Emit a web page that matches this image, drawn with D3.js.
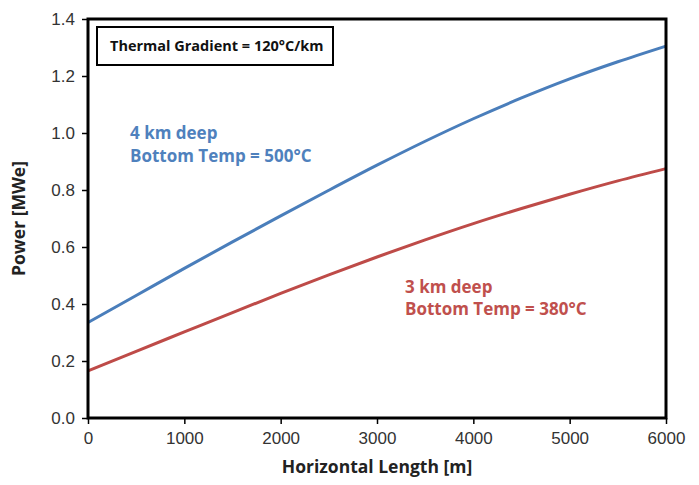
<!DOCTYPE html>
<meta charset="utf-8">
<style>
body { margin: 0; background: #fff; }
svg { font-family: "Open Sans", Lato, sans-serif; }
.axis text { font-size: 17px; fill: #333; }
.axis path { display: none; }
.axis line { stroke: #000; stroke-width: 1.5; }
.title { font-size: 17.5px; font-weight: bold; fill: #222; }
.note { font-size: 17px; font-weight: bold; }
</style>
<svg width="699" height="485"></svg>
<script src="https://d3js.org/d3.v7.min.js"></script>
<script>

// horizontal length [m]
var lengths = [0, 500, 1000, 1500, 2000, 2500, 3000, 3500, 4000, 4500, 5000, 5500, 6000];
// power [MWe], 4 km deep well
var deep4 = [0.335, 0.43, 0.525, 0.618, 0.709, 0.799, 0.887, 0.971, 1.05, 1.123, 1.19, 1.25, 1.305];
// power [MWe], 3 km deep well
var deep3 = [0.165, 0.234, 0.302, 0.37, 0.437, 0.502, 0.565, 0.625, 0.682, 0.735, 0.785, 0.832, 0.875];

var xTicks = [0, 1000, 2000, 3000, 4000, 5000, 6000];
var yTicks = [0, 0.2, 0.4, 0.6, 0.8, 1.0, 1.2, 1.4];

var svg = d3.select("svg"),
    margin = {top: 19, right: 33, bottom: 67, left: 88},
    width = +svg.attr("width") - margin.left - margin.right,
    height = +svg.attr("height") - margin.top - margin.bottom;

var x = d3.scaleLinear().domain([0, 6000]).range([0, width]),
    y = d3.scaleLinear().domain([0, 1.4]).range([height, 0]);

var g = svg.append("g")
    .attr("transform", "translate(" + margin.left + "," + margin.top + ")");

g.append("g")
    .attr("class", "axis")
    .attr("transform", "translate(0," + height + ")")
    .call(d3.axisBottom(x).tickValues(xTicks).tickSize(6).tickPadding(8).tickFormat(d3.format("d")));

g.append("g")
    .attr("class", "axis")
    .call(d3.axisLeft(y).tickValues(yTicks).tickSize(6).tickPadding(7).tickFormat(d3.format(".1f")));

var line = d3.line()
    .x(function(d, i) { return x(lengths[i]); })
    .y(function(d) { return y(d); })
    .curve(d3.curveMonotoneX);

g.append("path")
    .datum(deep4)
    .attr("fill", "none")
    .attr("stroke", "#4a7ebb")
    .attr("stroke-width", 3)
    .attr("d", line);

g.append("path")
    .datum(deep3)
    .attr("fill", "none")
    .attr("stroke", "#be4b48")
    .attr("stroke-width", 3)
    .attr("d", line);

// plot frame
g.append("rect")
    .attr("width", width)
    .attr("height", height)
    .attr("fill", "none")
    .attr("stroke", "#000")
    .attr("stroke-width", 3);

// gradient box
g.append("rect")
    .attr("x", 9).attr("y", 8)
    .attr("width", 236).attr("height", 38)
    .attr("fill", "#fff")
    .attr("stroke", "#000")
    .attr("stroke-width", 2);

g.append("text")
    .attr("class", "note")
    .attr("x", 22).attr("y", 32)
    .style("font-size", "14.5px")
    .style("fill", "#111")
    .text("Thermal Gradient = 120°C/km");

g.append("text").attr("class", "note").style("fill", "#4f81bd")
    .attr("x", 42).attr("y", 120).text("4 km deep");
g.append("text").attr("class", "note").style("fill", "#4f81bd")
    .attr("x", 42).attr("y", 143).text("Bottom Temp = 500°C");

g.append("text").attr("class", "note").style("fill", "#c0504d")
    .attr("x", 317).attr("y", 274).text("3 km deep");
g.append("text").attr("class", "note").style("fill", "#c0504d")
    .attr("x", 317).attr("y", 296).text("Bottom Temp = 380°C");

svg.append("text")
    .attr("class", "title")
    .attr("x", margin.left + width / 2)
    .attr("y", 473)
    .attr("text-anchor", "middle")
    .text("Horizontal Length [m]");

svg.append("text")
    .attr("class", "title")
    .attr("transform", "translate(25," + (margin.top + height / 2) + ") rotate(-90)")
    .attr("text-anchor", "middle")
    .text("Power [MWe]");

</script>
